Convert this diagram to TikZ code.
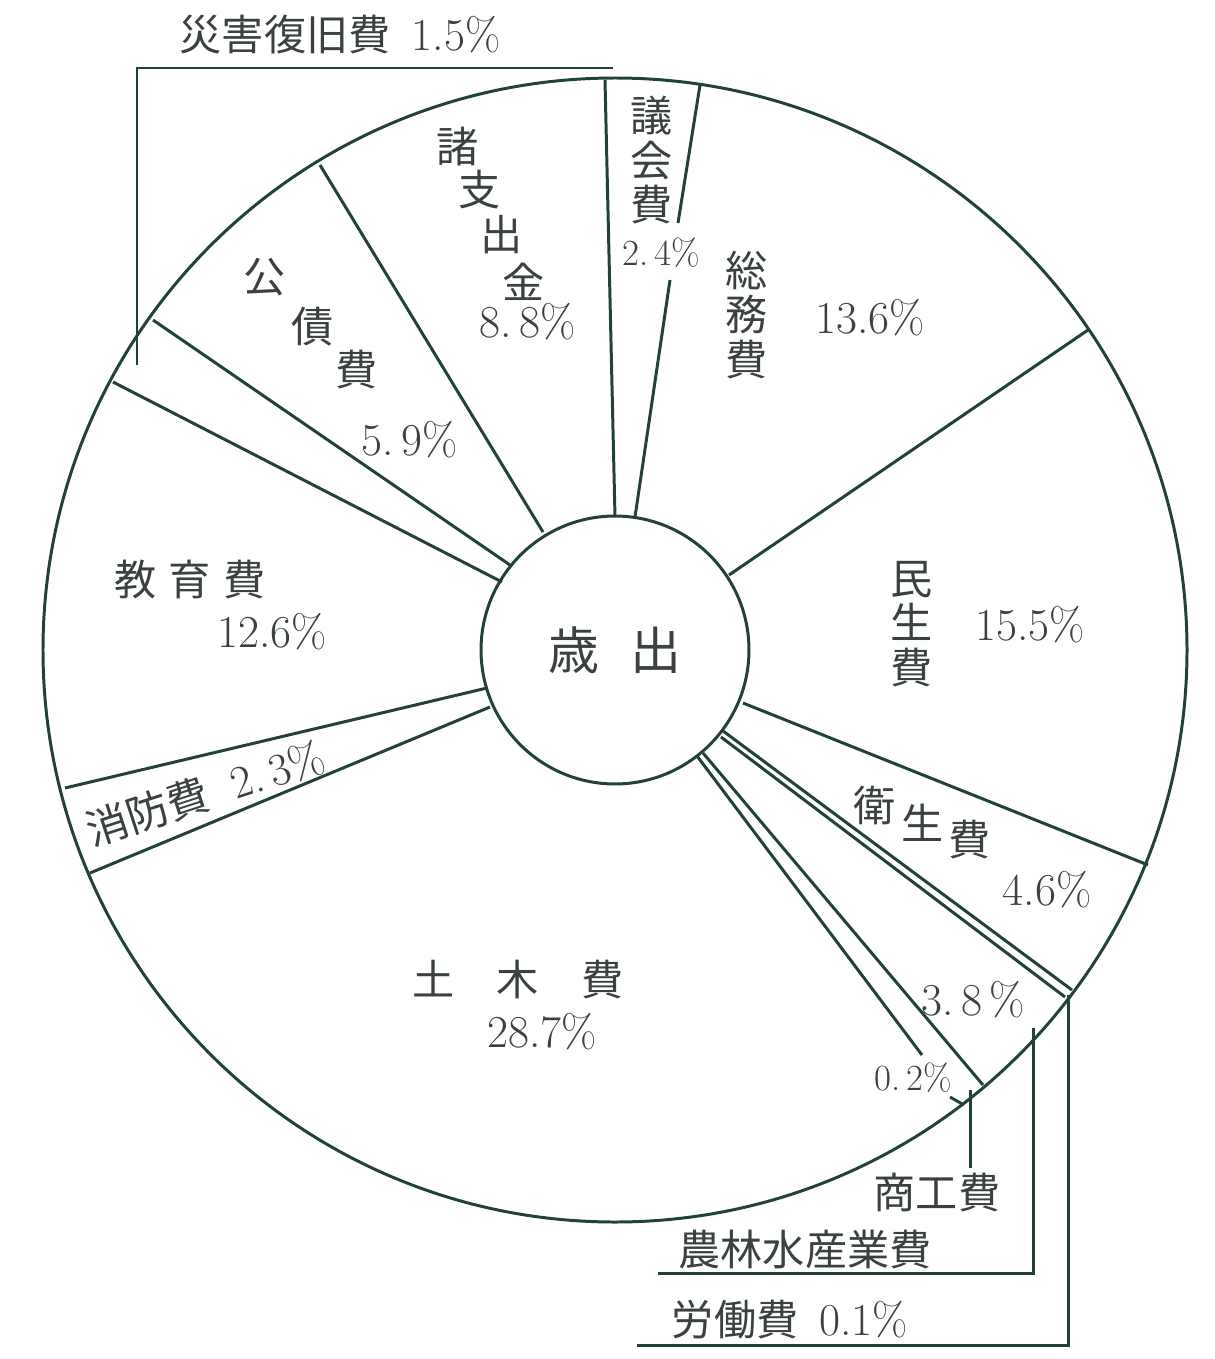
\documentclass[tikz,border=0pt]{standalone}
\usepackage{fontspec}
\newfontfamily\jp{Noto Sans CJK JP}
\definecolor{ink}{RGB}{34,66,55}
\definecolor{txt}{RGB}{58,66,62}
\newcommand{\jtxt}{\jp\fontsize{24}{25.5}\selectfont}
\newcommand{\ntxt}{\rmfamily\fontsize{26}{28}\selectfont}

\begin{document}
\begin{tikzpicture}[x=0.02cm, y=-0.02cm,
    edge/.style={draw=ink, line width=1.7pt},
    lbl/.style={text=txt, inner sep=0pt, align=center, font=\jtxt},
    num/.style={text=txt, inner sep=0pt, font=\ntxt},
    small/.style={num, font=\rmfamily\fontsize{21}{24}\selectfont}]

  \useasboundingbox (0,0) rectangle (1214,1359);

  % Define points
  \coordinate (O) at (615,650);
  \coordinate (A1) at (615,517);  \coordinate (A2) at (605,80);
  \coordinate (B1) at (635,517);  \coordinate (B2) at (670,280);
  \coordinate (B3) at (678,223);  \coordinate (B4) at (700,85);
  \coordinate (C1) at (729,575);  \coordinate (C2) at (1088,330);
  \coordinate (D1) at (743,703);  \coordinate (D2) at (1148,865);
  \coordinate (E1) at (723,731);  \coordinate (E2) at (1072,990);
  \coordinate (F1) at (721,737);  \coordinate (F2) at (1065,997);
  \coordinate (G1) at (703,753);  \coordinate (G2) at (983,1085);
  \coordinate (H1) at (697,756);  \coordinate (H2) at (922,1055);
  \coordinate (H3) at (950,1097); \coordinate (H4) at (964,1105);
  \coordinate (I1) at (490,707);  \coordinate (I2) at (90,873);
  \coordinate (J1) at (487,688);  \coordinate (J2) at (65,788);
  \coordinate (K1) at (502,582);  \coordinate (K2) at (113,382);
  \coordinate (L1) at (510,565);  \coordinate (L2) at (153,320);
  \coordinate (M1) at (543,532);  \coordinate (M2) at (320,165);

  % Draw circles
  \draw[edge] (O) circle[radius=572];
  \node[edge, circle, fill=white, minimum size=5.36cm, inner sep=0pt,
        text=txt, font=\jp\fontsize{29}{30}\selectfont] (core) at (O) {歳\hspace{0.6em}出};

  % Draw spokes
  \draw[edge] (A1) -- (A2);
  \draw[edge] (B1) -- (B2);
  \draw[edge] (B3) -- (B4);
  \draw[edge] (C1) -- (C2);
  \draw[edge] (D1) -- (D2);
  \draw[edge] (E1) -- (E2);
  \draw[edge] (F1) -- (F2);
  \draw[edge] (G1) -- (G2);
  \draw[edge] (H1) -- (H2);
  \draw[edge] (H3) -- (H4);
  \draw[edge] (I1) -- (I2);
  \draw[edge] (J1) -- (J2);
  \draw[edge] (K1) -- (K2);
  \draw[edge] (L1) -- (L2);
  \draw[edge] (M1) -- (M2);

  % Leaders
  \draw[edge] (137,365) -- (137,68) -- (613,68);
  \draw[edge] (970,1090) -- (970,1168);
  \draw[edge] (1033,1028) -- (1033,1273) -- (658,1273);
  \draw[edge] (1068,995) -- (1068,1345) -- (637,1345);

  % Labels
  \node[lbl] (saigai) at (340,35) {災害復旧費\hspace{0.5em}{\ntxt 1.5\%}};
  \node[lbl] (gikai) at (652,160) {議\\会\\費};
  \node[small] (gikaiP) at (661,253) {2.\,4\%};
  \node[lbl] (somu) at (747,315) {総\\務\\費};
  \node[num] (somuP) at (870,318) {13.6\%};
  \foreach \c/\x/\y [count=\i] in {諸/458/147, 支/480/190, 出/502/235, 金/524/282}
    \node[lbl] (shishi\i) at (\x,\y) {\c};
  \node[num] (shishiP) at (528,322) {8.\,8\%};
  \foreach \c/\x/\y [count=\i] in {公/265/277, 債/313/327, 費/357/370}
    \node[lbl] (kosai\i) at (\x,\y) {\c};
  \node[num] (kosaiP) at (410,440) {5.\,9\%};
  \node[lbl] (kyoiku) at (190,580) {教\hspace{0.3em}育\hspace{0.3em}費};
  \node[num] (kyoikuP) at (272,632) {12.6\%};
  \node[lbl, rotate=18] (shobo) at (148,812) {消防費};
  \node[num, rotate=18] (shoboP) at (277,770) {2.\,3\%};
  \node[lbl] (doboku) at (518,980) {土\hspace{1em}木\hspace{1em}費};
  \node[num] (dobokuP) at (542,1032) {28.7\%};
  \node[lbl] (minsei) at (912,624) {民\\生\\費};
  \node[num] (minseiP) at (1030,625) {15.5\%};
  \foreach \c/\x/\y [count=\i] in {衛/875/805, 生/923/823, 費/970/840}
    \node[lbl] (eisei\i) at (\x,\y) {\c};
  \node[num] (eiseiP) at (1047,890) {4.6\%};
  \node[num] (norinP) at (973,1000) {3.\,8\,\%};
  \node[small] (shokoP) at (913,1078) {0.\,2\%};
  \node[lbl] (shoko) at (937,1193) {商工費};
  \node[lbl] (norin) at (805,1250) {農林水産業費};
  \node[lbl] (rodo) at (790,1320) {労働費\hspace{0.5em}{\ntxt 0.1\%}};

\end{tikzpicture}
\end{document}
